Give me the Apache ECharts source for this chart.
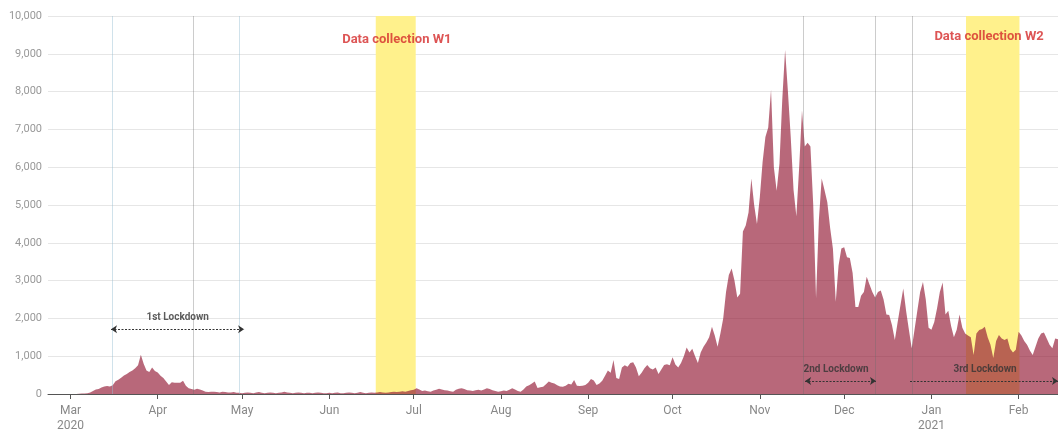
<!DOCTYPE html>
<html><head><meta charset="utf-8">
<script src="https://cdn.jsdelivr.net/npm/echarts@6/dist/echarts.min.js"></script>
<style>html,body{margin:0;padding:0;background:#fff}#c{width:1058px;height:433px}</style>
</head><body><div id="c"></div>
<script>
// ---- data (daily values, first day = 2020-02-22) ----
const startDate = '2020-02-22';
const casesFeb2020 = [0,0,0,0,0,0,0,0];
const casesMar2020 = [0,0,0,5,10,15,20,40,80,120,130,170,200,210,200,230,340,380,430,490,530,580,620,680,760,1040,800,620,580,700,610];
const casesApr2020 = [570,480,420,330,240,310,300,300,300,350,220,150,130,110,140,120,90,60,50,60,60,50,40,60,50,40,40,50,30,30];
const casesMay2020 = [20,30,40,30,20,40,50,30,20,30,40,30,20,30,40,60,40,30,20,30,40,30,20,30,30,20,30,40,30,20,20];
const casesJun2020 = [30,20,30,40,20,20,30,40,30,20,30,50,30,20,30,40,30,40,50,40,30,40,50,60,50,60,70,60,80,100];
const casesJul2020 = [110,150,120,80,90,70,60,90,110,140,120,100,90,70,60,110,140,150,130,100,90,80,100,110,90,120,150,130,100,80,60];
const casesAug2020 = [70,90,80,110,150,120,80,60,120,200,230,280,330,160,180,190,260,330,300,280,230,200,190,220,270,250,370,220,210,220,240];
const casesSep2020 = [300,400,360,240,280,350,480,620,560,900,420,400,700,760,720,820,840,700,470,560,680,770,680,650,700,530,650,770,790,760];
const casesOct2020 = [970,780,700,820,1000,1230,1100,1200,1000,820,1100,1250,1360,1500,1780,1550,1250,1600,2000,2700,3150,3320,3000,2550,2650,4300,4460,4800,5700,5000,4500];
const casesNov2020 = [5200,6140,6800,7050,8050,6000,5380,6100,7800,9100,8000,6800,5400,4700,6000,7500,6550,6650,6550,5000,2530,4600,5700,5400,5070,4400,3840,2440,3400,3850];
const casesDec2020 = [3880,3620,3600,3200,2300,2300,2600,2700,3100,2900,2700,2550,2700,2740,2500,2100,2090,1820,1430,1900,2350,2790,2200,1700,1210,1700,2200,2700,2960,2500,1750];
const casesJan2021 = [1700,1900,2260,2700,2950,2100,2200,1800,1500,1700,2100,1750,1600,1550,1500,1030,1600,1690,1720,1780,1500,1300,950,1400,1560,1470,1430,1470,1200,1100,1170];
const casesFeb2021 = [1650,1550,1400,1300,1150,1030,1250,1470,1600,1630,1470,1300,1210,1470,1450];

const monthLabels = {'2020-03':'Mar\n2020','2020-04':'Apr','2020-05':'May','2020-06':'Jun','2020-07':'Jul','2020-08':'Aug','2020-09':'Sep','2020-10':'Oct','2020-11':'Nov','2020-12':'Dec','2021-01':'Jan\n2021','2021-02':'Feb'};
const yTicks = [0,1000,2000,3000,4000,5000,6000,7000,8000,9000,10000];

// annotation data, in day index from start date
const blueLines = [22.75, 67.9];
const grayLines = [51.5, 268.6, 294.2, 307.1];
const collectionWaves = [{name:'Data collection W1', from:116.5, to:130.7, labelDay:124, labelY:9380},
                         {name:'Data collection W2', from:326.3, to:345.3, labelDay:334.5, labelY:9450}];
const lockdowns = [{name:'1st Lockdown', from:22.4, to:69.7, y:1710, labelDay:46.1, labelY:2030, startArrow:true},
                   {name:'2nd Lockdown', from:269.1, to:294.3, y:342, labelDay:280.1, labelY:640, startArrow:true},
                   {name:'3rd Lockdown', from:306.4, to:359, y:342, labelDay:333.1, labelY:640, startArrow:false}];

// ---- build ----
const values = [].concat(casesFeb2020,casesMar2020,casesApr2020,casesMay2020,casesJun2020,casesJul2020,casesAug2020,casesSep2020,casesOct2020,casesNov2020,casesDec2020,casesJan2021,casesFeb2021);
const dates = [];
const d0 = new Date(startDate + 'T00:00:00Z');
for (let i = 0; i < values.length; i++) {
  const d = new Date(d0.getTime() + i * 86400000);
  dates.push(d.toISOString().slice(0,10));
}
const isMonthStart = (i) => dates[i] && dates[i].slice(8,10) === '01';
const lastDay = values.length - 1;

const chart = echarts.init(document.getElementById('c'), null, {renderer:'canvas'});
chart.setOption({
  animation: false,
  grid: {left:48, right:0, top:16, bottom:37, containLabel:false},
  xAxis: [{
    type:'category', data: dates, boundaryGap:false,
    axisLine:{show:true, lineStyle:{color:'#555', width:1}},
    axisTick:{show:true, interval:(i)=>isMonthStart(i), length:5, lineStyle:{color:'#555'}},
    axisLabel:{interval:(i)=>isMonthStart(i), formatter:(v)=>monthLabels[v.slice(0,7)]||'', color:'#888', fontSize:12, lineHeight:15, margin:9, fontFamily:'Roboto'},
    splitLine:{show:false}
  },{
    type:'value', min:0, max:lastDay, show:false
  }],
  yAxis: {
    type:'value', min:yTicks[0], max:yTicks[yTicks.length-1], interval:yTicks[1]-yTicks[0],
    axisLine:{show:false}, axisTick:{show:false},
    axisLabel:{color:'#999', fontSize:11, margin:6, fontFamily:'Roboto', formatter:(v)=>v.toLocaleString('en-US')},
    splitLine:{lineStyle:{color:'#e6e6e6', width:1}}
  },
  series: [
    {type:'line', xAxisIndex:1, data:[], z:1, silent:true,
     markArea:{silent:true, itemStyle:{color:'#fff18c'},
       data: collectionWaves.map(w=>[{xAxis:w.from},{xAxis:w.to}])}},
    {type:'line', xAxisIndex:0, data: values, z:2, symbol:'none', showSymbol:false,
     lineStyle:{width:0, color:'rgba(146,23,51,0.65)'},
     areaStyle:{color:'rgba(146,23,51,0.65)', opacity:1}},
    {type:'line', xAxisIndex:1, data:[], z:3, silent:true,
     markLine:{silent:true, symbol:'none', label:{show:false},
       data: blueLines.map(x=>({xAxis:x, lineStyle:{color:'rgba(150,190,210,0.45)', width:1, type:'solid'}}))
         .concat(grayLines.map(x=>({xAxis:x, lineStyle:{color:'rgba(110,110,110,0.35)', width:1, type:'solid'}})))}},
    {type:'line', xAxisIndex:1, data:[], z:4, silent:true,
     markLine:{silent:true, symbolSize:6, label:{show:false},
       lineStyle:{color:'#333', width:1, type:[2,1.5]},
       data: lockdowns.map(l=>[{coord:[l.from,l.y], symbol: l.startArrow?'arrow':'none'},{coord:[l.to,l.y], symbol:'arrow'}])}},
    {type:'scatter', xAxisIndex:1, z:5, silent:true, symbolSize:1, itemStyle:{color:'rgba(0,0,0,0)'},
     label:{show:true, position:'inside', fontFamily:'Roboto'},
     data: lockdowns.map(l=>({value:[l.labelDay,l.labelY], label:{formatter:l.name, fontSize:10, fontWeight:'bold', color:'#333'}}))
       .concat(collectionWaves.map(w=>({value:[w.labelDay,w.labelY], label:{formatter:w.name, fontSize:13, fontWeight:'bold', color:'#d42a2a'}})))}
  ]
});
</script>
</body></html>
